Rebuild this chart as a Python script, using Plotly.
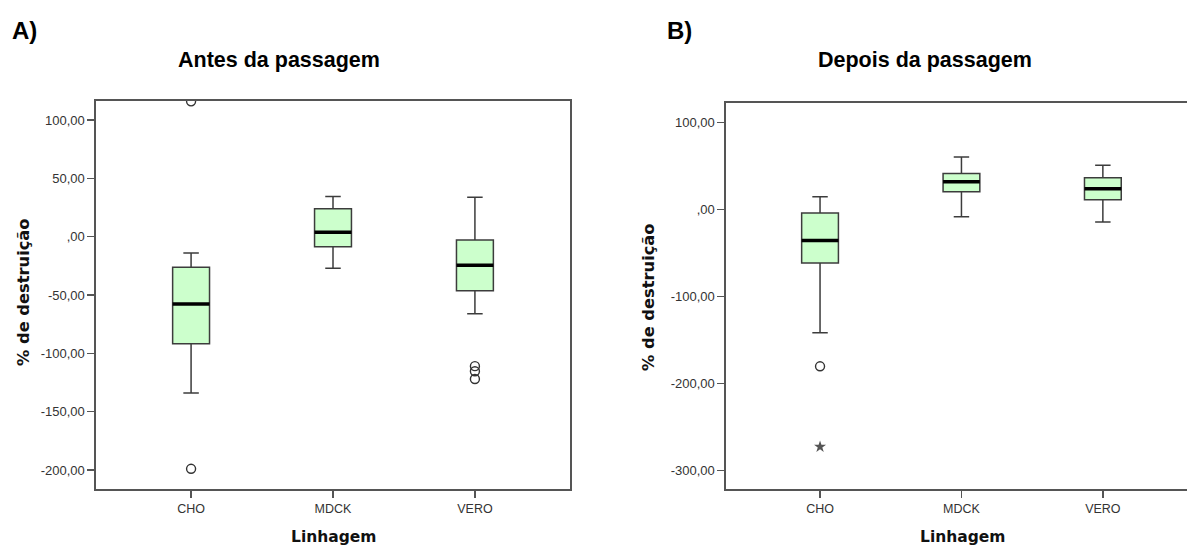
import plotly.graph_objects as go

W, H = 1187, 547

categories = ["CHO", "MDCK", "VERO"]
positions = [0, 1, 2]

# Panel A - Antes da passagem
a_q1 = [-91.7, -8.6, -46.3]
a_median = [-57.7, 3.7, -24.6]
a_q3 = [-26.3, 24.0, -2.9]
a_lower = [-134.0, -27.0, -66.0]
a_upper = [-14.0, 34.5, 33.7]
a_out_x = [0, 0, 2, 2, 2]
a_out_y = [116.0, -199.0, -111.0, -115.4, -122.0]

# Panel B - Depois da passagem
b_q1 = [-61.7, 20.2, 11.0]
b_median = [-36.0, 31.7, 23.7]
b_q3 = [-4.3, 41.0, 36.3]
b_lower = [-142.0, -8.5, -14.6]
b_upper = [14.5, 60.0, 50.6]
b_out_x = [0]
b_out_y = [-180.5]
b_ext_x = [0]
b_ext_y = [-273.0]

a_tickvals = [100, 50, 0, -50, -100, -150, -200]
a_ticktext = ["100,00", "50,00", ",00", "-50,00", "-100,00", "-150,00", "-200,00"]
b_tickvals = [100, 0, -100, -200, -300]
b_ticktext = ["100,00", ",00", "-100,00", "-200,00", "-300,00"]

BOXW = 0.26
FILL = "#ccffcc"
EDGE = "#3c3c3c"

fig = go.Figure()


def add_panel(xa, ya, q1, med, q3, lo, up):
    fig.add_trace(go.Box(
        x=positions, q1=q1, median=med, q3=q3, lowerfence=lo, upperfence=up,
        width=BOXW, whiskerwidth=0.42, fillcolor=FILL,
        line=dict(color=EDGE, width=1.5), boxpoints=False,
        xaxis=xa, yaxis=ya, showlegend=False, hoverinfo="skip"))
    mx, my = [], []
    for p, m in zip(positions, med):
        mx += [p - BOXW / 2, p + BOXW / 2, None]
        my += [m, m, None]
    fig.add_trace(go.Scatter(x=mx, y=my, mode="lines",
                             line=dict(color="#000000", width=3.5),
                             xaxis=xa, yaxis=ya, showlegend=False, hoverinfo="skip"))


add_panel("x", "y", a_q1, a_median, a_q3, a_lower, a_upper)
add_panel("x2", "y2", b_q1, b_median, b_q3, b_lower, b_upper)

fig.add_trace(go.Scatter(x=a_out_x, y=a_out_y, mode="markers",
                         marker=dict(symbol="circle-open", size=9, color="#333333",
                                     line=dict(width=1.4)),
                         xaxis="x", yaxis="y", showlegend=False, cliponaxis=True))
fig.add_trace(go.Scatter(x=b_out_x, y=b_out_y, mode="markers",
                         marker=dict(symbol="circle-open", size=9, color="#333333",
                                     line=dict(width=1.4)),
                         xaxis="x2", yaxis="y2", showlegend=False))
fig.add_trace(go.Scatter(x=b_ext_x, y=b_ext_y, mode="markers",
                         marker=dict(symbol="star", size=9, color="#555555"),
                         xaxis="x2", yaxis="y2", showlegend=False))

tickfont = dict(family="Arial, Liberation Sans, sans-serif", size=12.5, color="#333333")
LC = "#555555"

common_x = dict(tickvals=positions, ticktext=categories, showline=True, linecolor=LC,
                linewidth=1.6, ticks="outside", ticklen=7, tickwidth=1.4, tickcolor=LC,
                showgrid=False, zeroline=False, tickfont=tickfont, fixedrange=True)
common_y = dict(showline=True, linecolor=LC, linewidth=1.6, ticks="outside", ticklen=7,
                tickwidth=1.4, tickcolor=LC, showgrid=False, zeroline=False,
                tickfont=dict(family="Arial, Liberation Sans, sans-serif", size=13, color="#333333"),
                fixedrange=True)

def px(xp):
    return xp / W

def py(yp):
    return 1 - yp / H

fig.update_layout(
    width=W, height=H, margin=dict(l=0, r=0, t=0, b=0),
    paper_bgcolor="white", plot_bgcolor="white",
    xaxis=dict(domain=[px(96), px(570)], range=[-0.67, 2.67], anchor="y", mirror=True, **common_x),
    yaxis=dict(domain=[py(489), py(101)], range=[-216.3, 116.3], anchor="x", mirror=True,
               tickvals=a_tickvals, ticktext=a_ticktext, **common_y),
    xaxis2=dict(domain=[px(726), 1.0], range=[-0.665, 2.595], anchor="y2", mirror=True, **common_x),
    yaxis2=dict(domain=[py(489), py(102.7)], range=[-321.5, 122.5], anchor="x2", mirror=False,
                tickvals=b_tickvals, ticktext=b_ticktext, **common_y),
    showlegend=False,
)

bold_arial = "Arial, Liberation Sans, sans-serif"
bold_dv = "DejaVu Sans, Verdana, sans-serif"
ann = []
ann.append(dict(text="<b>A)</b>", x=px(10), y=py(31), xanchor="left", yanchor="middle",
                font=dict(family=bold_arial, size=24, color="black")))
ann.append(dict(text="<b>B)</b>", x=px(665), y=py(31), xanchor="left", yanchor="middle",
                font=dict(family=bold_arial, size=24, color="black")))
ann.append(dict(text="<b>Antes da passagem</b>", x=px(279), y=py(60), xanchor="center", yanchor="middle",
                font=dict(family=bold_arial, size=21.5, color="black")))
ann.append(dict(text="<b>Depois da passagem</b>", x=px(925), y=py(60), xanchor="center", yanchor="middle",
                font=dict(family=bold_arial, size=21.5, color="black")))
ann.append(dict(text="<b>% de destruição</b>", x=px(23), y=py(292), xanchor="center", yanchor="middle",
                textangle=-90, font=dict(family=bold_dv, size=16.3, color="#111111")))
ann.append(dict(text="<b>% de destruição</b>", x=px(648), y=py(297), xanchor="center", yanchor="middle",
                textangle=-90, font=dict(family=bold_dv, size=16.3, color="#111111")))
ann.append(dict(text="<b>Linhagem</b>", x=px(333), y=py(537), xanchor="center", yanchor="middle",
                font=dict(family=bold_dv, size=15.5, color="#111111")))
ann.append(dict(text="<b>Linhagem</b>", x=px(962), y=py(537), xanchor="center", yanchor="middle",
                font=dict(family=bold_dv, size=15.5, color="#111111")))
for a in ann:
    a.update(xref="paper", yref="paper", showarrow=False)
fig.update_layout(annotations=ann)

fig.write_html("out.html",
               config={"displayModeBar": False, "staticPlot": True},
               post_script="document.body.style.margin='0';document.body.style.overflow='hidden';")
